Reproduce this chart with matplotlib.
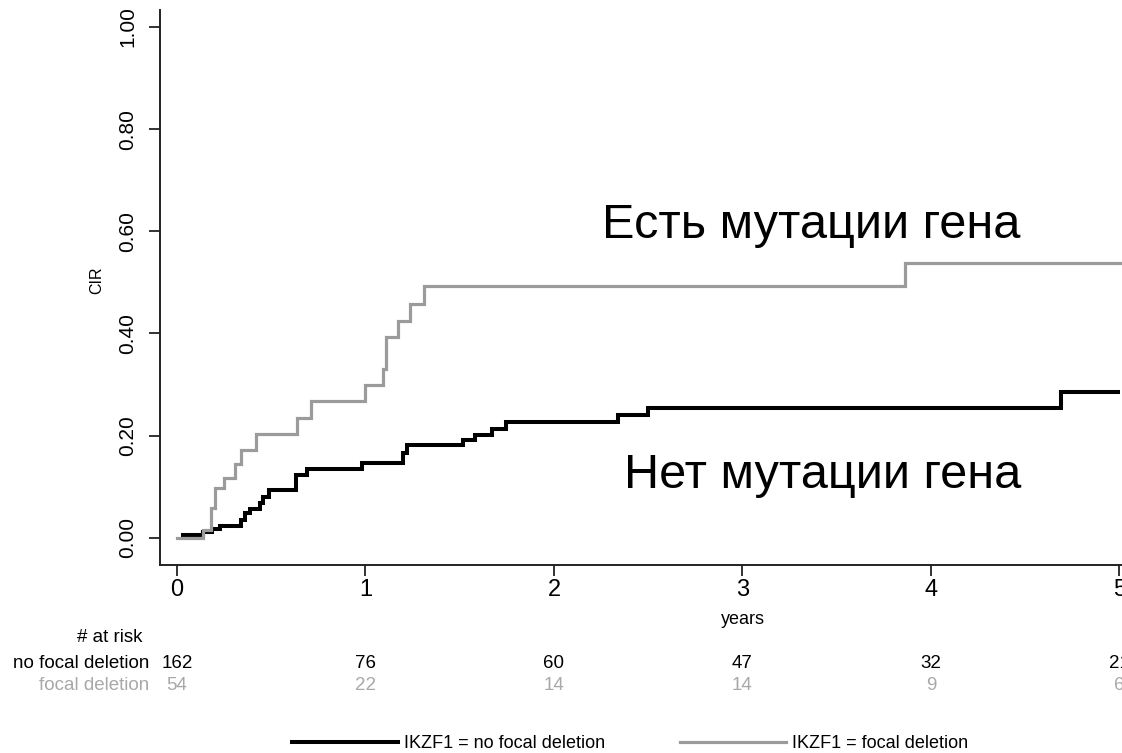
import matplotlib
matplotlib.use("Agg")
import matplotlib.pyplot as plt
from matplotlib.transforms import blended_transform_factory

plt.rcParams['font.family'] = ['Liberation Sans', 'DejaVu Sans']

# Cumulative incidence of relapse, step curves (time in years, CIR)
focal_t = [0, 0.14, 0.18, 0.20, 0.25, 0.31, 0.34, 0.42, 0.635, 0.71, 1.0,
           1.095, 1.11, 1.17, 1.236, 1.313, 3.86, 5.1]
focal_cir = [0, 0.016, 0.058, 0.097, 0.117, 0.145, 0.173, 0.203, 0.234, 0.267,
             0.299, 0.330, 0.394, 0.425, 0.458, 0.492, 0.538, 0.538]

nofocal_t = [0.03, 0.14, 0.184, 0.228, 0.338, 0.361, 0.387, 0.44, 0.458, 0.49,
             0.631, 0.688, 0.98, 1.2, 1.222, 1.519, 1.581, 1.673, 1.745, 2.34,
             2.50, 4.69, 4.99]
nofocal_cir = [0.006, 0.012, 0.017, 0.023, 0.035, 0.048, 0.056, 0.068, 0.080,
               0.093, 0.123, 0.135, 0.147, 0.166, 0.182, 0.192, 0.202, 0.213,
               0.226, 0.241, 0.255, 0.285, 0.285]

# Number at risk
risk_years = [0, 1, 2, 3, 4, 5]
risk_nofocal = [162, 76, 60, 47, 32, 21]
risk_focal = [54, 22, 14, 14, 9, 6]

x_ticks = [0, 1, 2, 3, 4, 5, 6]
y_ticks = [0.0, 0.2, 0.4, 0.6, 0.8, 1.0]

BLACK = '#000000'
GRAY = '#9b9b9b'
GRAY_TXT = '#a8a8a8'

W, H = 1122, 753
fig = plt.figure(figsize=(W / 100, H / 100), dpi=100)

x0, x1 = -0.09, 6.09
y0, y1 = -0.053, 1.033
left_px, bottom_px, top_px = 160, 565, 10
px_per_year = 188.5
ax_w_px = (x1 - x0) * px_per_year
ax = fig.add_axes([left_px / W, 1 - bottom_px / H, ax_w_px / W, (bottom_px - top_px) / H])
ax.set_xlim(x0, x1)
ax.set_ylim(y0, y1)

l_nofocal, = ax.step(nofocal_t, nofocal_cir, where='post', color=BLACK, lw=2.9,
                     label='IKZF1 = no focal deletion', solid_joinstyle='miter')
l_focal, = ax.step(focal_t, focal_cir, where='post', color=GRAY, lw=2.3,
                   label='IKZF1 = focal deletion', solid_joinstyle='miter')

for s in ('top', 'right'):
    ax.spines[s].set_visible(False)
for s in ('left', 'bottom'):
    ax.spines[s].set_linewidth(1.4)
    ax.spines[s].set_color('#222222')

ax.set_xticks(x_ticks)
ax.set_xticklabels([str(t) for t in x_ticks], fontsize=17)
ax.set_yticks(y_ticks)
ax.set_yticklabels([f'{v:.2f}' for v in y_ticks], fontsize=15, rotation=90, va='center')
ax.tick_params(axis='x', length=8, width=1.3, pad=2, color='#222222')
ax.tick_params(axis='y', length=8, width=1.3, pad=8.5, color='#222222')

ax.set_xlabel('years', fontsize=13, labelpad=7)
ax.set_ylabel('CIR', fontsize=11.5)
ax.yaxis.set_label_coords((104 - left_px) / ax_w_px, (bottom_px - 280) / (bottom_px - top_px))

ax.text(2.255, 0.587, 'Есть мутации гена', fontsize=35, ha='left', va='baseline')
ax.text(2.37, 0.098, 'Нет мутации гена', fontsize=35, ha='left', va='baseline')

# Number-at-risk table below the axis
tr = blended_transform_factory(ax.transData, fig.transFigure)
fig.text(142.5 / W, 1 - 637 / H, '# at risk', fontsize=13.5, ha='right', va='center')
fig.text(149 / W, 1 - 664 / H, 'no focal deletion', fontsize=13.5, ha='right', va='center')
fig.text(149 / W, 1 - 685 / H, 'focal deletion', fontsize=13.5, ha='right', va='center',
         color=GRAY_TXT)
for t, a, b in zip(risk_years, risk_nofocal, risk_focal):
    fig.text(t, 1 - 664 / H, str(a), fontsize=13.5, ha='center', va='center',
             transform=tr, color=BLACK)
    fig.text(t, 1 - 685 / H, str(b), fontsize=13.5, ha='center', va='center',
             transform=tr, color=GRAY_TXT)

fig.legend(handles=[l_nofocal, l_focal], loc='center', ncol=2, frameon=False,
           bbox_to_anchor=(630 / W, 1 - 744 / H), fontsize=13,
           handlelength=5.9, handletextpad=0.35, columnspacing=4.1, borderpad=0)

fig.savefig('out.png', dpi=100)
